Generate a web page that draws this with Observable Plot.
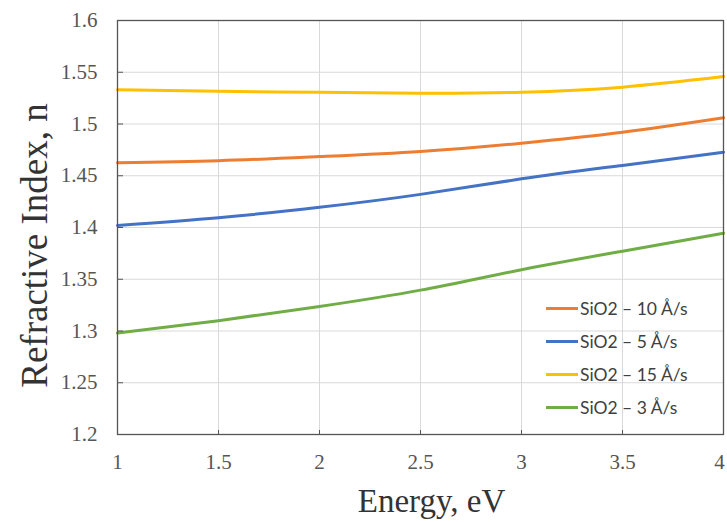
<!DOCTYPE html>
<html>
<head>
<meta charset="utf-8">
<script src="https://cdn.jsdelivr.net/npm/d3@7"></script>
<script src="https://cdn.jsdelivr.net/npm/@observablehq/plot@0.6"></script>
<style>
  body { margin: 0; background: #fff; }
  #wrap { position: relative; width: 727px; height: 522px; }
  #wrap svg g[aria-label$="tick label"] text { font-size: 21px; fill: #555; }
  #legend { position: absolute; left: 546px; top: 292px; font-family: Lato, "Open Sans", sans-serif; font-size: 17.5px; color: #404040; }
  .row { display: flex; align-items: center; height: 33px; }
  .sw { width: 32px; height: 3px; margin-right: 2px; }
</style>
</head>
<body>
<div id="wrap"><div id="legend"></div></div>
<script>
const energy = [1, 1.5, 2, 2.5, 3, 3.5, 4];
const seriesNames = ["SiO2 – 10 Å/s", "SiO2 – 5 Å/s", "SiO2 – 15 Å/s", "SiO2 – 3 Å/s"];
const seriesColors = ["#ED7D31", "#4472C4", "#FFC000", "#70AD47"];
const n10 = [1.4625, 1.4645, 1.4685, 1.4735, 1.4815, 1.4920, 1.5060];
const n5  = [1.4020, 1.4095, 1.4195, 1.4320, 1.4470, 1.4600, 1.4728];
const n15 = [1.5330, 1.5316, 1.5306, 1.5298, 1.5307, 1.5356, 1.5458];
const n3  = [1.2980, 1.3100, 1.3237, 1.3395, 1.3592, 1.3771, 1.3945];
const xTicks = [1, 1.5, 2, 2.5, 3, 3.5, 4];
const yTicks = [1.2, 1.25, 1.3, 1.35, 1.4, 1.45, 1.5, 1.55, 1.6];
const xLabel = "Energy, eV";
const yLabel = "Refractive Index, n";

const seriesValues = [n10, n5, n15, n3];
const data = [];
seriesValues.forEach((vals, i) => vals.forEach((v, j) => data.push({series: seriesNames[i], e: energy[j], n: v})));

const serif = "'Liberation Serif', 'DejaVu Serif', serif";
const chart = Plot.plot({
  width: 727, height: 522,
  marginLeft: 117, marginRight: 4, marginTop: 20, marginBottom: 88,
  style: {fontFamily: serif, color: "#555", background: "white"},
  x: {domain: [1, 4]},
  y: {domain: [1.2, 1.6]},
  color: {domain: seriesNames, range: seriesColors},
  marks: [
    Plot.gridX(xTicks, {stroke: "#d9d9d9", strokeOpacity: 1}),
    Plot.gridY(yTicks, {stroke: "#d9d9d9", strokeOpacity: 1}),
    Plot.line(data, {x: "e", y: "n", z: "series", stroke: "series", strokeWidth: 3, curve: "natural"}),
    Plot.frame({stroke: "#555", strokeWidth: 1.3}),
    Plot.axisY(yTicks, {anchor: "left", tickSize: 0, tickPadding: 20, tickFormat: d => String(d), label: null}),
    Plot.axisY(yTicks, {anchor: "right", frameAnchor: "left", tickSize: 5, tickFormat: () => "", label: null, stroke: "#555"}),
    Plot.axisX(xTicks.slice(0, -1), {anchor: "bottom", tickSize: 0, tickPadding: 20, tickFormat: d => String(d), label: null}),
    Plot.axisX(xTicks.slice(-1), {anchor: "bottom", tickSize: 0, tickPadding: 20, tickFormat: d => String(d), label: null, dx: -4}),
    Plot.axisX(xTicks, {anchor: "top", frameAnchor: "bottom", tickSize: 5, tickFormat: () => "", label: null, stroke: "#555"}),
    Plot.text([xLabel], {text: d => d, frameAnchor: "bottom", textAnchor: "middle", lineAnchor: "middle", dx: 11, dy: 67, fontSize: 33, fill: "#333"}),
    Plot.text([yLabel], {text: d => d, frameAnchor: "left", textAnchor: "middle", lineAnchor: "middle", rotate: -90, dx: -82, dy: 18, fontSize: 37, fill: "#333"})
  ]
});
document.getElementById("wrap").prepend(chart);

const legend = d3.select("#legend");
seriesNames.forEach((name, i) => {
  const row = legend.append("div").attr("class", "row");
  row.append("div").attr("class", "sw").style("background", seriesColors[i]);
  row.append("span").text(name);
});
</script>
</body>
</html>
